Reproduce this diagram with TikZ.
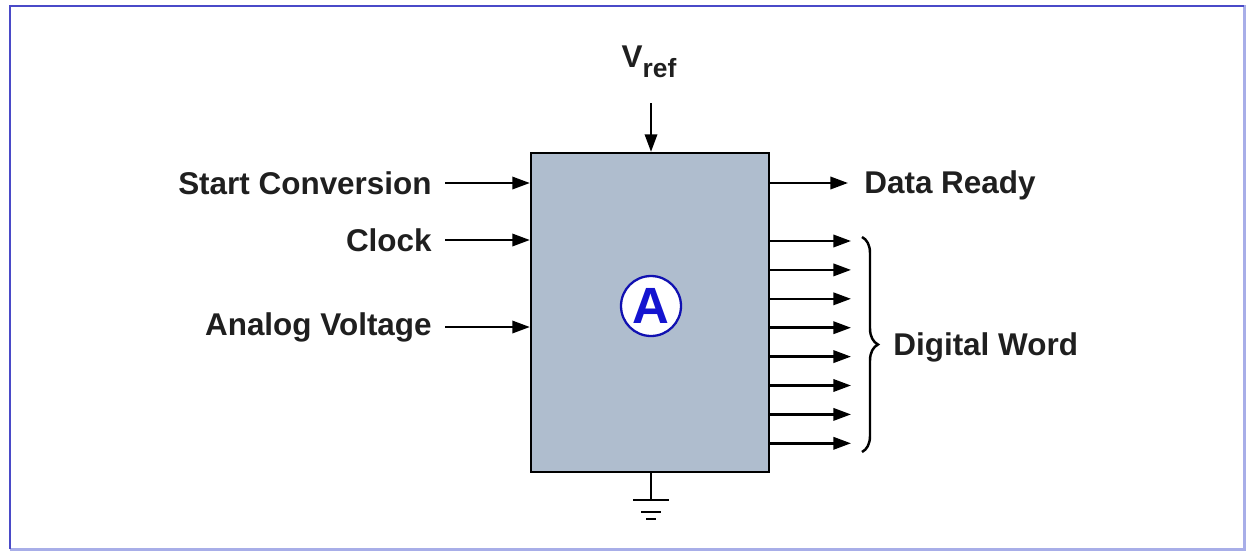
\documentclass[tikz,border=0pt]{standalone}
\usepackage{fontspec}
\setmainfont{Liberation Sans}
\usetikzlibrary{arrows.meta,decorations.pathreplacing}
\definecolor{boxfill}{HTML}{AFBDCE}
\definecolor{framedark}{HTML}{4A4AC8}
\definecolor{framelight}{HTML}{A8AEE8}
\definecolor{markblue}{HTML}{1414D0}
\tikzset{
    lbl/.style={font=\bfseries\fontsize{17.9}{20}\selectfont, text=black!88, inner ysep=0pt},
    sig/.style={line width=1.4pt, -{Triangle[length=10pt,width=7pt]}},
    wire/.style={line width=1.4pt},
    adc/.style={draw, line width=1.3pt, fill=boxfill, minimum width=4.76cm, minimum height=6.38cm},
    logo/.style={circle, draw=markblue!85!black, line width=1.3pt, fill=white, minimum size=1.2cm, inner sep=0pt,
        text=markblue, font=\bfseries\fontsize{29}{30}\selectfont},
    wordbrace/.style={decorate, decoration={brace, amplitude=0.32cm}, line width=1.4pt}
}
\begin{document}
\begin{tikzpicture}[x=0.02cm, y=-0.02cm]
    \useasboundingbox (0,0) rectangle (1247,552);
% frame
    \draw[framelight, line width=1.7pt] (10,6) -- (1244,6) -- (1244,549) -- (10,549);
    \draw[framedark, line width=1.7pt] (10,549) -- (10,6) -- (1244,6);
% converter
    \node[adc] (adc) at (650,312.5) {};
    \node[logo] (mark) at (651,306) {A};
% inputs
    \foreach \y/\v/\t in {183/start/Start Conversion, 240/clock/Clock, 327/analog/Analog Voltage}{
        \node[lbl, anchor=east, inner xsep=0.26cm] (\v) at (445,\y) {\t};
        \draw[sig] (\v.east) -- (\v.east -| adc.west);
    }
    \node[lbl] (vref) at (649,62) {V\raisebox{-0.3em}{\fontsize{15}{16}\selectfont ref}};
    \coordinate (vtop) at (651,103);
    \draw[sig] (vtop) -- (vtop |- adc.north);
% outputs
    \coordinate (rd) at (848,183);
    \node[lbl, anchor=west, inner xsep=0.32cm] (ready) at ([yshift=-0.04cm]rd) {Data Ready};
    \draw[sig] (rd -| adc.east) -- (rd);
    \foreach \i in {0,...,7}{
        \coordinate (b\i) at (851,241+28.9*\i);
        \draw[sig] (b\i -| adc.east) -- (b\i);
    }
    \draw[wordbrace] (862,237) -- (862,452) coordinate[midway] (bmid);
    \node[lbl, anchor=west, inner xsep=0pt] (word) at ([xshift=0.62cm, yshift=-0.05cm]bmid) {Digital Word};
% ground
    \coordinate (gnd) at (651,500);
    \draw[wire] (gnd |- adc.south) -- (gnd);
    \draw[wire] (gnd) ++(-18,0) -- ++(36,0);
    \draw[wire] (gnd) ++(-10,12) -- ++(20,0);
    \draw[wire] (gnd) ++(-5,19) -- ++(10,0);
\end{tikzpicture}
\end{document}
